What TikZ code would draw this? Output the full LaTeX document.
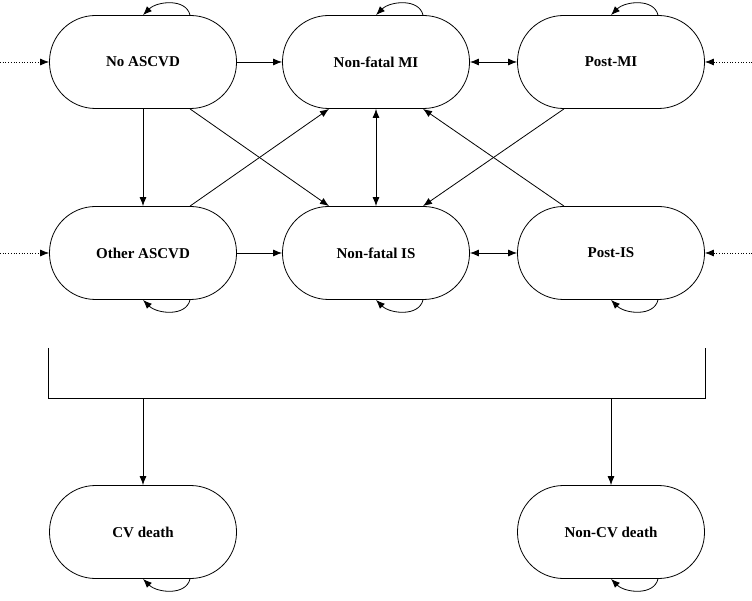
\documentclass[tikz,border=0pt]{standalone}
\usepackage{fontspec}
\setmainfont{Liberation Serif}
\usetikzlibrary{calc,arrows.meta}
\begin{document}
\begin{tikzpicture}[x=1pt,y=-1pt,
        state/.style={draw,line width=0.8pt,rounded corners=46pt,minimum width=187pt,minimum height=93pt,font=\bfseries\fontsize{15}{18}\selectfont},
        arr/.style={-{Latex[length=9pt,width=7pt]},line width=0.8pt},
        darr/.style={{Latex[length=9pt,width=7pt]}-{Latex[length=9pt,width=7pt]},line width=0.8pt},
        inarr/.style={-{Latex[length=9pt,width=7pt]},dotted,line width=0.7pt},
        ]
    \useasboundingbox (0,0) rectangle (752,601);
    \node (noascvd) [state] at (143,62) {No ASCVD};
    \node (nfmi) [state] at (376,62) {Non-fatal MI};
    \node (postmi) [state] at (611,62) {Post-MI};
    \node (other) [state] at (143,253) {Other ASCVD};
    \node (nfis) [state] at (376,253) {Non-fatal IS};
    \node (postis) [state] at (611,253) {Post-IS};
    \node (cvd) [state] at (143,532) {CV death};
    \node (ncvd) [state] at (611,532) {Non-CV death};
    % entries
    \coordinate (in1) at (0,62);
    \coordinate (in2) at (0,253);
    \coordinate (in3) at (752,62);
    \coordinate (in4) at (752,253);
    \draw[inarr] (in1) -- (noascvd.west);
    \draw[inarr] (in2) -- (other.west);
    \draw[inarr] (in3) -- (postmi.east);
    \draw[inarr] (in4) -- (postis.east);
    % transitions
    \draw[arr] (noascvd) -- (nfmi);
    \draw[darr] (nfmi) -- (postmi);
    \draw[arr] (noascvd) -- (other);
    \draw[arr] ($(noascvd.south)+(47,0)$) -- ($(nfis.north)+(-47,0)$);
    \draw[arr] ($(other.north)+(47,0)$) -- ($(nfmi.south)+(-47,0)$);
    \draw[darr] (nfmi) -- (nfis);
    \draw[arr] ($(postmi.south)+(-47,0)$) -- ($(nfis.north)+(47,0)$);
    \draw[arr] ($(postis.north)+(-47,0)$) -- ($(nfmi.south)+(47,0)$);
    \draw[arr] (other) -- (nfis);
    \draw[darr] (nfis) -- (postis);
    % death bracket
    \coordinate (bl) at (48,348);
    \coordinate (br) at (705,348);
    \coordinate (bl2) at (48,398);
    \coordinate (br2) at (705,398);
    \draw[line width=0.8pt] (bl) -- (bl2) -- (br2) -- (br);
    \draw[arr] (bl2 -| cvd) -- (cvd);
    \draw[arr] (br2 -| ncvd) -- (ncvd);
    % self loops
    \foreach \n in {noascvd,nfmi,postmi}
        \draw[arr] ($(\n.north)+(47,0)$) .. controls +(-4,-17) and +(14,-14) .. (\n.north);
    \foreach \n in {other,nfis,postis,cvd,ncvd}
        \draw[arr] ($(\n.south)+(47,0)$) .. controls +(-4,17) and +(14,14) .. (\n.south);
\end{tikzpicture}
\end{document}
